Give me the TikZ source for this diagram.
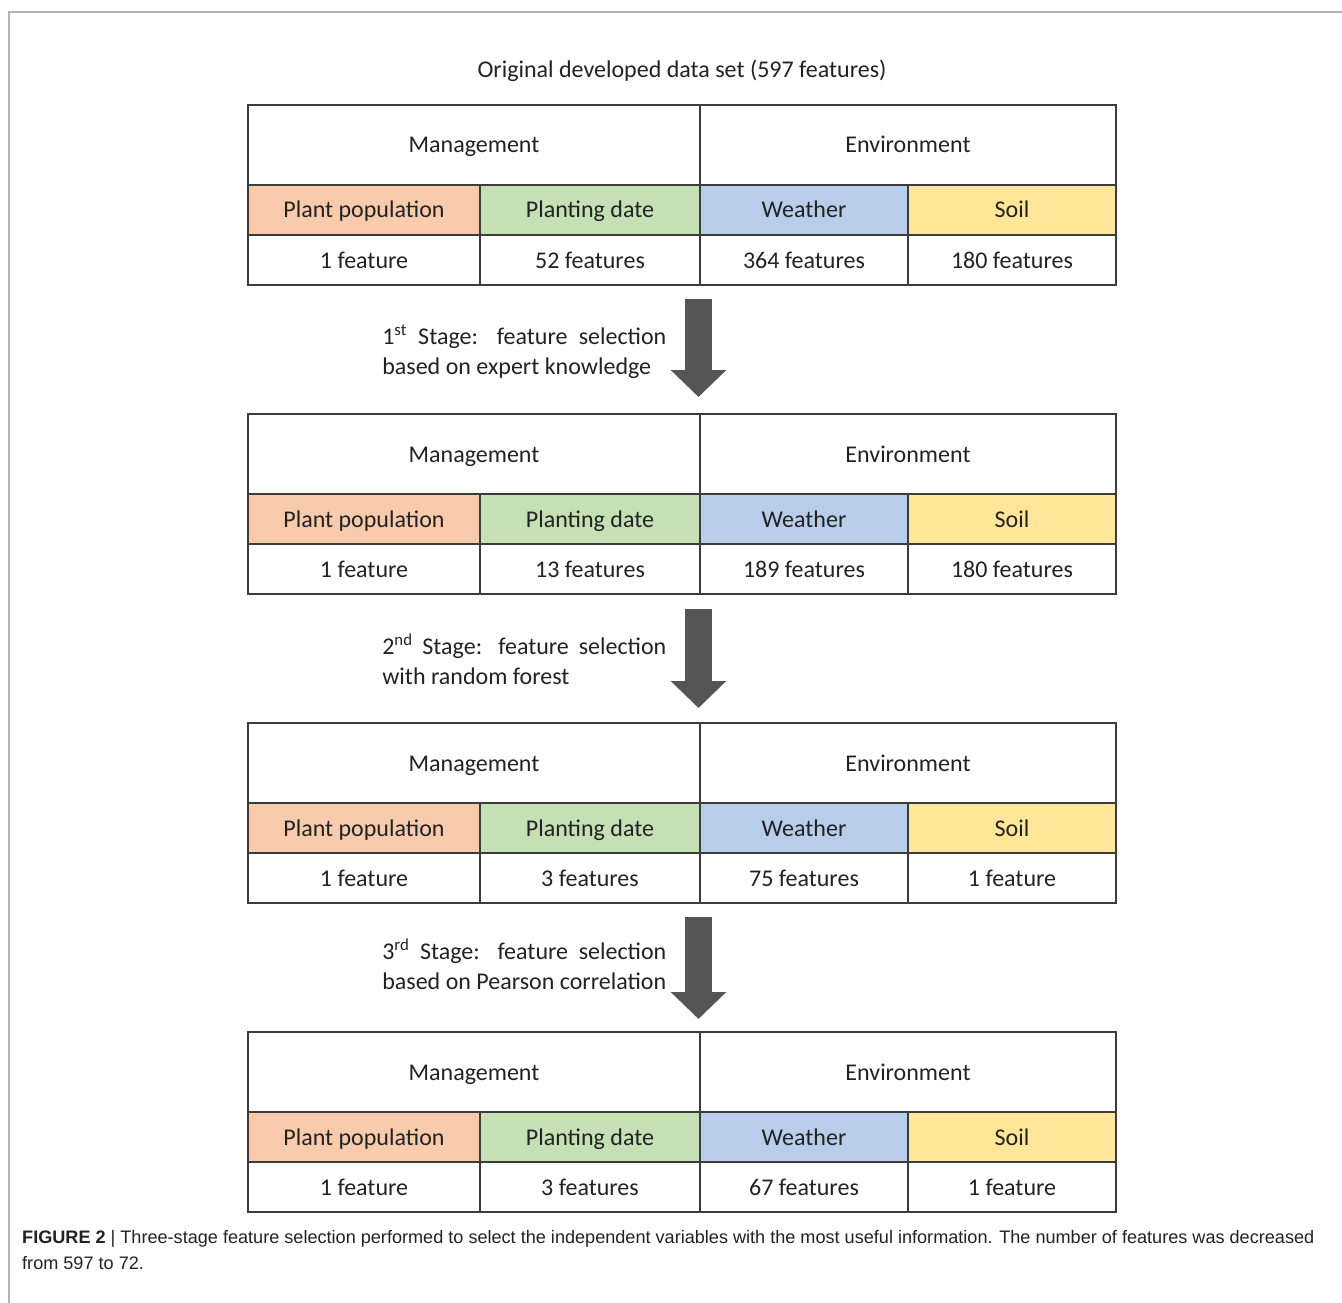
\documentclass[tikz,border=0pt]{standalone}
\usepackage{fontspec}
\setmainfont{Carlito}
\newfontfamily\capfont{Liberation Sans}
\usetikzlibrary{positioning,arrows.meta}

\definecolor{popfill}{HTML}{F8CBAD}
\definecolor{datefill}{HTML}{C5E0B4}
\definecolor{weatherfill}{HTML}{B8CDEA}
\definecolor{soilfill}{HTML}{FFE699}
\definecolor{gridline}{HTML}{3C3C3C}
\definecolor{arrowgray}{HTML}{555555}
\definecolor{framegray}{HTML}{B4B4B4}
\definecolor{inktext}{HTML}{222222}

\begin{document}
\begin{tikzpicture}[x=1pt, y=-1pt, node distance=0pt,
    cell/.style = {draw=gridline, line width=1.8pt, inner sep=0pt, outer sep=0pt,
        minimum height=50pt, text height=19pt, text depth=3pt, text=inktext,
        font=\fontsize{24}{30}\selectfont},
    head/.style = {cell, minimum height=80pt},
    mgmtcol/.style = {minimum width=452pt},
    envcol/.style = {minimum width=416pt},
    popcol/.style = {minimum width=232pt},
    datecol/.style = {minimum width=220pt},
    weathercol/.style = {minimum width=208pt},
    soilcol/.style = {minimum width=208pt},
    stagetext/.style = {text width=284pt, align=justify, inner sep=0pt, text=inktext,
        font=\fontsize{24}{30}\selectfont},
    bigarrow/.style = {draw=arrowgray, line width=27pt, -{Triangle[width=54pt, length=27pt]}},
    captext/.style = {anchor=north west, inner sep=0pt, align=left, text=inktext,
        font=\capfont\fontsize{18.1}{26}\selectfont}]
    \useasboundingbox (0,0) rectangle (1342,1303);
    \draw[framegray, line width=1.5pt] (9,1303) -- (9,12) -- (1342,12);

    \node[text=inktext, font=\fontsize{24}{30}\selectfont] (title) at (682,71) {Original developed data set (597 features)};

    % original data set
    \node[head, mgmtcol, anchor=north west] (man1) at (248,105) {Management};
    \node[head, envcol] (env1) [right=of man1] {Environment};
    \node[cell, popcol, fill=popfill] (pop1) [below right=of man1.south west] {Plant population};
    \node[cell, datecol, fill=datefill] (date1) [right=of pop1] {Planting date};
    \node[cell, weathercol, fill=weatherfill] (weat1) [right=of date1] {Weather};
    \node[cell, soilcol, fill=soilfill] (soil1) [right=of weat1] {Soil};
    \node[cell, popcol] (popn1) [below=of pop1] {1 feature};
    \node[cell, datecol] (daten1) [below=of date1] {52 features};
    \node[cell, weathercol] (weatn1) [below=of weat1] {364 features};
    \node[cell, soilcol] (soiln1) [below=of soil1] {180 features};

    % after stage 1
    \node[head, mgmtcol] (man2) [below right=129pt and 0pt of popn1.south west] {Management};
    \node[head, envcol] (env2) [right=of man2] {Environment};
    \node[cell, popcol, fill=popfill] (pop2) [below right=of man2.south west] {Plant population};
    \node[cell, datecol, fill=datefill] (date2) [right=of pop2] {Planting date};
    \node[cell, weathercol, fill=weatherfill] (weat2) [right=of date2] {Weather};
    \node[cell, soilcol, fill=soilfill] (soil2) [right=of weat2] {Soil};
    \node[cell, popcol] (popn2) [below=of pop2] {1 feature};
    \node[cell, datecol] (daten2) [below=of date2] {13 features};
    \node[cell, weathercol] (weatn2) [below=of weat2] {189 features};
    \node[cell, soilcol] (soiln2) [below=of soil2] {180 features};

    % after stage 2
    \node[head, mgmtcol] (man3) [below right=129pt and 0pt of popn2.south west] {Management};
    \node[head, envcol] (env3) [right=of man3] {Environment};
    \node[cell, popcol, fill=popfill] (pop3) [below right=of man3.south west] {Plant population};
    \node[cell, datecol, fill=datefill] (date3) [right=of pop3] {Planting date};
    \node[cell, weathercol, fill=weatherfill] (weat3) [right=of date3] {Weather};
    \node[cell, soilcol, fill=soilfill] (soil3) [right=of weat3] {Soil};
    \node[cell, popcol] (popn3) [below=of pop3] {1 feature};
    \node[cell, datecol] (daten3) [below=of date3] {3 features};
    \node[cell, weathercol] (weatn3) [below=of weat3] {75 features};
    \node[cell, soilcol] (soiln3) [below=of soil3] {1 feature};

    % after stage 3
    \node[head, mgmtcol] (man4) [below right=129pt and 0pt of popn3.south west] {Management};
    \node[head, envcol] (env4) [right=of man4] {Environment};
    \node[cell, popcol, fill=popfill] (pop4) [below right=of man4.south west] {Plant population};
    \node[cell, datecol, fill=datefill] (date4) [right=of pop4] {Planting date};
    \node[cell, weathercol, fill=weatherfill] (weat4) [right=of date4] {Weather};
    \node[cell, soilcol, fill=soilfill] (soil4) [right=of weat4] {Soil};
    \node[cell, popcol] (popn4) [below=of pop4] {1 feature};
    \node[cell, datecol] (daten4) [below=of date4] {3 features};
    \node[cell, weathercol] (weatn4) [below=of weat4] {67 features};
    \node[cell, soilcol] (soiln4) [below=of soil4] {1 feature};

    % stage arrows
    \coordinate (a1top) at ([xshift=-1.5pt, yshift=-14pt]daten1.south east);
    \coordinate (a1tip) at ([xshift=-1.5pt, yshift=17pt]man2.north east);
    \coordinate (a2top) at ([xshift=-1.5pt, yshift=-15pt]daten2.south east);
    \coordinate (a2tip) at ([xshift=-1.5pt, yshift=15pt]man3.north east);
    \coordinate (a3top) at ([xshift=-1.5pt, yshift=-14pt]daten3.south east);
    \coordinate (a3tip) at ([xshift=-1.5pt, yshift=13pt]man4.north east);
    \draw[bigarrow] (a1top) -- (a1tip);
    \draw[bigarrow] (a2top) -- (a2tip);
    \draw[bigarrow] (a3top) -- (a3tip);

    \node[stagetext] (st1) [below left=26pt and 32pt of a1top] {1\textsuperscript{st} Stage: feature selection\linebreak based on expert knowledge};
    \node[stagetext] (st2) [below left=25pt and 32pt of a2top] {2\textsuperscript{nd} Stage: feature selection\linebreak with random forest};
    \node[stagetext] (st3) [below left=22pt and 32pt of a3top] {3\textsuperscript{rd} Stage: feature selection\linebreak based on Pearson correlation};

    \node[captext] (cap) at (22,1230) {\textbf{FIGURE 2} | Three-stage feature selection performed to select the independent variables with the most useful information. The number of features was decreased\\from 597 to 72.};
\end{tikzpicture}
\end{document}
